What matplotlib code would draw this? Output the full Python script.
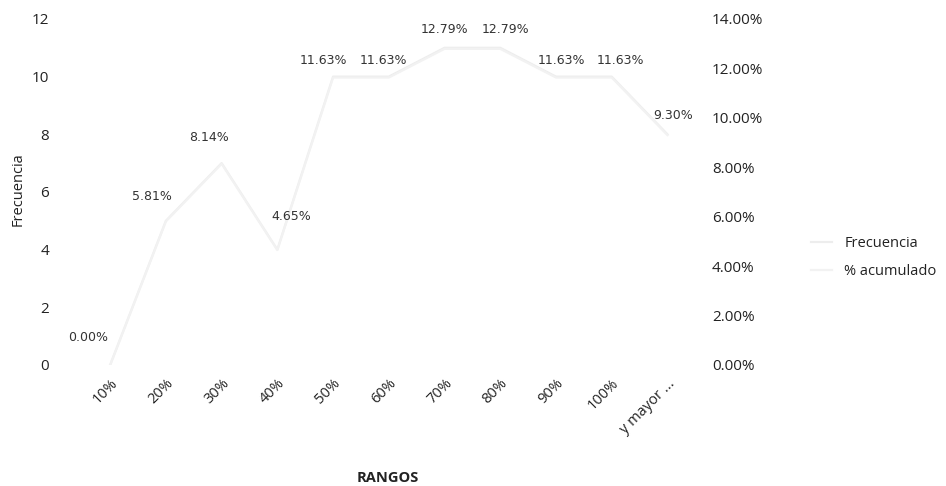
import matplotlib
matplotlib.use("Agg")
import matplotlib.pyplot as plt
import numpy as np

# histogram table: frequency per range and its share of the total
rangos = ["10%", "20%", "30%", "40%", "50%", "60%", "70%", "80%", "90%", "100%", "y mayor ..."]
frecuencia = [0, 5, 7, 4, 10, 10, 11, 11, 10, 10, 8]
porcentaje = [0.0, 5.81, 8.14, 4.65, 11.63, 11.63, 12.79, 12.79, 11.63, 11.63, 9.30]

plt.rcParams['font.family'] = ['Open Sans', 'DejaVu Sans']

fig = plt.figure(figsize=(9.46, 4.86), dpi=100)
ax = fig.add_axes([0.087, 0.249, 0.648, 0.712])
ax2 = ax.twinx()

x = np.arange(len(rangos))
l1, = ax.plot(x, frecuencia, color='#ededed', lw=1.6)
l2, = ax2.plot(x, porcentaje, color='#f2f2f2', lw=1.6)

ax.set_xlim(-0.5, len(rangos) - 0.5)
ax.set_ylim(0, 12)
ax2.set_ylim(0, 14)
ax.set_yticks(range(0, 13, 2))
ax2.set_yticks(range(0, 15, 2))
ax2.set_yticklabels(["%.2f%%" % v for v in range(0, 15, 2)])

ax.set_xticks(x)
ax.set_xticklabels(rangos, rotation=45, ha='right', rotation_mode='anchor')

for a in (ax, ax2):
    for s in a.spines.values():
        s.set_visible(False)
    a.tick_params(length=0, labelsize=11, colors='#222222')
ax.tick_params(axis='y', pad=24)
ax.tick_params(axis='x', pad=8, labelsize=10.5)
ax2.tick_params(axis='y', pad=12)

# axis titles
fig.text(0.019, 0.61, "Frecuencia", rotation=90, ha='center', va='center',
         fontsize=10.5, color='#222222')
fig.text(0.41, 0.016, "RANGOS", ha='center', va='center',
         fontsize=10.5, fontweight='bold', color='#222222')

# label offsets (points) for the percentage tags
dx = [-16, -10, -9, 10, -7, -4, 0, 4, 4, 6, 4]
dy = [20, 18, 19, 24, 12, 12, 14, 14, 12, 12, 14]
for xi, p, ox, oy in zip(x, porcentaje, dx, dy):
    ax2.annotate("%.2f%%" % p, (xi, p), xytext=(ox, oy), textcoords='offset points',
                 ha='center', va='center', fontsize=9, family='DejaVu Sans', color='#333333')

fig.legend([l1, l2], ["Frecuencia", "% acumulado"], loc='center left',
           bbox_to_anchor=(0.843, 0.47), frameon=False, fontsize=10.5,
           handlelength=1.5, labelspacing=0.9, labelcolor='#222222')

fig.savefig("out.png", dpi=100)
